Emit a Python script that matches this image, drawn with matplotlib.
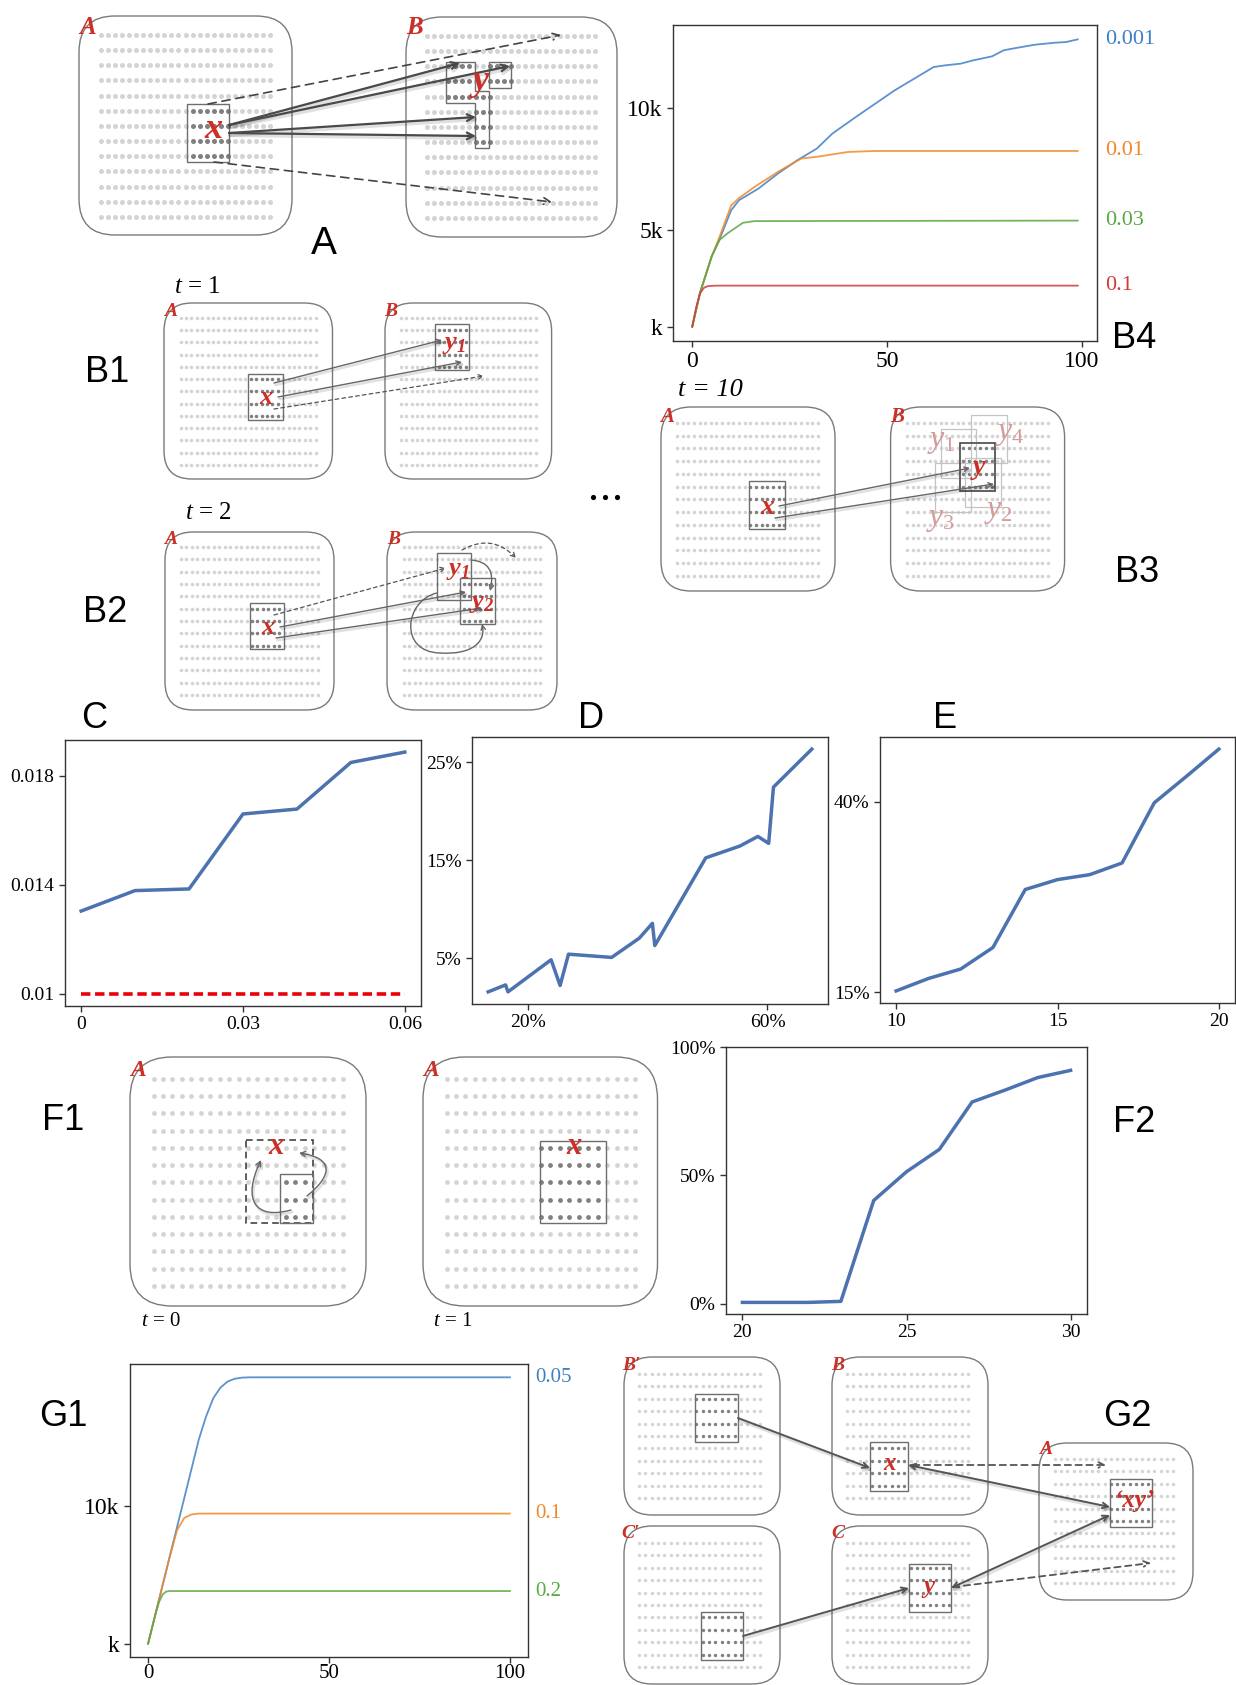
import numpy as np
import matplotlib

matplotlib.use('Agg')
import matplotlib.pyplot as plt
from matplotlib.patches import FancyBboxPatch, FancyArrowPatch, Rectangle, Polygon
from matplotlib.path import Path
import matplotlib.patheffects as pe

plt.rcParams['font.family'] = ['Liberation Serif', 'DejaVu Serif']
plt.rcParams['mathtext.fontset'] = 'custom'
plt.rcParams['mathtext.rm'] = 'Liberation Serif'
plt.rcParams['mathtext.it'] = 'Liberation Serif:italic'
plt.rcParams['mathtext.bf'] = 'Liberation Serif:italic:bold'

# ---- B4: growth of the region over epochs, one curve per rate
b4_rates = ['0.001', '0.01', '0.03', '0.1']
b4_colors = ['#3f7fc6', '#f0892a', '#5aaa44', '#cf3a3a']
b4_x_0001 = [0, 2, 5, 7, 10, 12, 17, 22, 27, 32, 36, 42, 47, 52, 57, 62, 65, 69, 72, 77, 80, 83, 88, 93, 96, 99]
b4_y_0001 = [1000, 2400, 3900, 4600, 5800, 6210, 6690, 7310, 7860, 8340, 8960, 9640, 10190, 10740, 11220,
             11700, 11770, 11840, 11970, 12140, 12390, 12480, 12620, 12700, 12730, 12840]
b4_x_001 = [0, 2, 5, 7, 10, 12, 16, 22, 28, 32, 36, 40, 47, 99]
b4_y_001 = [1000, 2400, 3900, 4700, 6000, 6300, 6760, 7380, 7930, 8000, 8100, 8200, 8240, 8240]
b4_x_003 = [0, 2, 5, 7, 9, 13, 16, 99]
b4_y_003 = [1000, 2400, 3900, 4570, 4840, 5280, 5350, 5370]
b4_x_01 = [0, 1, 2, 3, 4, 6, 99]
b4_y_01 = [1000, 1800, 2370, 2600, 2670, 2690, 2690]

# ---- C
c_x = [0, 0.01, 0.02, 0.03, 0.04, 0.05, 0.06]
c_y = [0.01304, 0.01379, 0.01385, 0.0166, 0.01678, 0.01849, 0.01887]
c_base = 0.01

# ---- D (percent)
d_x = [13.4, 16.3, 16.7, 23.9, 25.4, 26.8, 34.0, 38.6, 40.8, 41.2, 49.7, 55.4, 58.4, 60.2, 61.0, 67.4]
d_y = [1.55, 2.26, 1.55, 4.83, 2.2, 5.4, 5.07, 7.03, 8.55, 6.28, 15.24, 16.45, 17.43, 16.72, 22.47, 26.35]

# ---- E (percent)
e_x = [10, 11, 12, 13, 14, 15, 16, 17, 18, 19, 20]
e_y = [15.17, 16.8, 18.04, 20.87, 28.48, 29.78, 30.43, 31.96, 39.87, 43.35, 46.91]

# ---- F2 (percent)
f2_x = [20, 21, 22, 23, 24, 25, 26, 27, 28, 29, 30]
f2_y = [0.5, 0.5, 0.5, 0.9, 40.2, 51.4, 60.1, 78.6, 83.2, 88.1, 90.9]

# ---- G1
g1_rates = ['0.05', '0.1', '0.2']
g1_colors = ['#3f7fc6', '#f0892a', '#5aaa44']
g1_x_005 = [0, 2, 4, 6, 8, 10, 12, 14, 16, 18, 20, 22, 24, 26, 28, 100]
g1_y_005 = [1000, 2900, 4800, 6700, 8600, 10500, 12400, 14300, 15800, 17000, 17700, 18100, 18280, 18350, 18370, 18370]
g1_x_01 = [0, 2, 4, 6, 8, 10, 12, 14, 100]
g1_y_01 = [1000, 2900, 4800, 6700, 8400, 9200, 9430, 9485, 9485]
g1_x_02 = [0, 1, 2, 3, 4, 5, 6, 100]
g1_y_02 = [1000, 1950, 2900, 3700, 4200, 4400, 4433, 4433]

W, H = 1236, 1685
RED = '#cc2f26'
LINE = '#4c72b0'

fig = plt.figure(figsize=(W / 100, H / 100), dpi=100)
cv = fig.add_axes([0, 0, 1, 1])
cv.set_xlim(0, W)
cv.set_ylim(H, 0)
cv.axis('off')


def place(l, t, r, b):
    return fig.add_axes([l / W, 1 - b / H, (r - l) / W, (b - t) / H])


def panel(x0, y0, x1, y1, rad):
    cv.add_patch(FancyBboxPatch((x0, y0), x1 - x0, y1 - y0, boxstyle='round,pad=0,rounding_size=%s' % rad,
                                fc='white', ec='#7a7a7a', lw=1.0, zorder=1))


def grid(x0, x1, y0, y1, ncol, nrow, size, dark=()):
    gx, gy = np.meshgrid(np.linspace(x0, x1, ncol), np.linspace(y0, y1, nrow))
    gx, gy = gx.ravel(), gy.ravel()
    hot = np.zeros(gx.size, bool)
    for (a, b, c, d) in dark:
        hot |= (gx >= a) & (gx <= c) & (gy >= b) & (gy <= d)
    cv.scatter(gx[~hot], gy[~hot], s=size, c='#d4d4d4', lw=0, zorder=2)
    cv.scatter(gx[hot], gy[hot], s=size, c='#808080', lw=0, zorder=2)


def frame(x0, y0, x1, y1, ec='#6e6e6e', lw=1.0, ls='-'):
    cv.add_patch(Rectangle((x0, y0), x1 - x0, y1 - y0, fill=False, ec=ec, lw=lw, ls=ls, zorder=3))


def arrow(p, q, ls='-', lw=1.4, color='#555555', ms=12, style='->', shadow=False, path=None):
    if path is not None:
        a = FancyArrowPatch(path=path, arrowstyle=style, mutation_scale=ms, lw=lw, ls=ls, color=color, zorder=5)
    else:
        a = FancyArrowPatch(p, q, arrowstyle=style, mutation_scale=ms, lw=lw, ls=ls, color=color,
                            shrinkA=0, shrinkB=0, zorder=5)
    if shadow:  # soft drop shadow under the solid arrows
        a.set_path_effects([pe.SimpleLineShadow(offset=(1, -1.5), alpha=0.12, linewidth=lw * 1.8), pe.Normal()])
    cv.add_patch(a)


def red(x, y, s, fs, color=RED, bold=True):
    cv.text(x, y, s, color=color, fontsize=fs, style='italic', weight='bold' if bold else 'normal',
            ha='center', va='center', zorder=6)


def tag(x, y, s, fs=26):
    cv.text(x, y, s, family='Liberation Sans', fontsize=fs, ha='center', va='center', zorder=6)


# ================= A =================
panel(79, 16, 292, 235, 36)
panel(406, 17, 617, 237, 36)
grid(101, 270, 35, 217, 25, 13, 13, dark=[(186, 104, 229, 162)])
grid(427, 595, 36, 218, 25, 13, 13,
     dark=[(444, 60, 474, 100), (444, 90, 490, 100), (474, 90, 490, 148), (489, 60, 512, 88)])
frame(186.5, 104, 229, 162)
cv.add_patch(Polygon([(446, 62), (475, 62), (475, 91), (489, 91), (489, 148), (475, 148), (475, 103), (446, 103)],
                     closed=True, fill=False, ec='#6e6e6e', lw=1.0, zorder=3))
frame(489, 62, 511, 88)
for q in [(460, 63), (510, 66), (476, 117), (476, 136)]:
    arrow((229, 125 if q[1] < 100 else 133), q, lw=1.6, color='#4a4a4a', ms=12, shadow=True)
arrow((208, 104), (561, 35), ls=(0, (5, 3.5)), lw=1.2, color='#444444', ms=12)
arrow((214, 162), (552, 202), ls=(0, (5, 3.5)), lw=1.2, color='#444444', ms=12)
red(214, 130, 'x', 26)
red(481, 82, 'y', 26)
red(88, 27, 'A', 18)
red(415, 27, 'B', 18)
tag(324, 244, 'A', 28)

# ================= B1 =================
cv.text(197, 287, '$t$ = 1', fontsize=18, ha='center', va='center')
panel(164, 303, 332.5, 479, 28)
panel(385, 303, 551.6, 479, 28)
grid(180.6, 315.5, 318, 465, 26, 13, 6.5, dark=[(248, 374, 283, 420)])
grid(400.8, 535.7, 318, 465, 26, 13, 6.5, dark=[(434.5, 324, 469, 370)])
frame(248, 374, 283, 420)
frame(434.5, 324, 469, 370)
arrow((274, 383), (442, 340), lw=1.0, color='#666666', ms=8, shadow=True)
arrow((278, 397), (462, 362), lw=1.0, color='#666666', ms=8, shadow=True)
arrow((274, 409), (484, 376), ls=(0, (3, 2.5)), lw=0.9, color='#555555', ms=8)
red(266, 397, 'x', 19)
cv.text(454, 345, r'$\mathbf{y}_{\mathbf{1}}$', color=RED, fontsize=19, ha='center', va='center', zorder=6)
red(171, 312, 'A', 14)
red(391, 312, 'B', 14)
tag(107, 373, 'B1')

# ================= B2 =================
cv.text(208, 513, '$t$ = 2', fontsize=18, ha='center', va='center')
panel(165, 532, 334, 710, 28)
panel(387, 532, 557, 710, 28)
grid(181, 317.5, 547, 695, 26, 13, 6.5, dark=[(250, 603, 284, 649)])
grid(404, 540, 547, 695, 26, 13, 6.5, dark=[(460, 578, 495, 624)])
frame(250, 603, 284, 649)
frame(436.5, 553, 471, 600)
frame(460, 578, 495, 624)
arrow((274, 615), (446, 568), ls=(0, (3, 2.5)), lw=0.9, color='#555555', ms=8)
arrow((280, 627), (466, 592), lw=1.0, color='#666666', ms=8, shadow=True)
arrow((276, 638), (482, 608), lw=1.0, color='#666666', ms=8, shadow=True)
arrow(None, None, lw=1.0, color='#666666', ms=8, path=Path(
    [(437, 593), (405, 600), (398, 652), (440, 653), (472, 655), (486, 642), (482, 624)],
    [Path.MOVETO, Path.CURVE4, Path.CURVE4, Path.CURVE4, Path.CURVE4, Path.CURVE4, Path.CURVE4]))
arrow(None, None, lw=1.0, color='#666666', ms=8, path=Path(
    [(471, 560), (497, 562), (490, 591)], [Path.MOVETO, Path.CURVE3, Path.CURVE3]))
arrow(None, None, ls=(0, (3, 2.5)), lw=0.9, color='#555555', ms=8, path=Path(
    [(462, 550), (492, 533), (516, 558)], [Path.MOVETO, Path.CURVE3, Path.CURVE3]))
red(268, 627, 'x', 19)
cv.text(458, 571, r'$\mathbf{y}_{\mathbf{1}}$', color=RED, fontsize=19, ha='center', va='center', zorder=6)
cv.text(482, 604, r'$\mathbf{y}_{\mathbf{2}}$', color=RED, fontsize=19, ha='center', va='center', zorder=6)
red(171, 540, 'A', 14)
red(394, 540, 'B', 14)
tag(105, 612, 'B2')

cv.scatter([593, 605, 617], [497, 497, 497], s=14, c='black', lw=0)

# ================= B3 =================
cv.text(710, 390, 't = 10', fontsize=19, style='italic', ha='center', va='center')
panel(661, 407, 835, 591, 30)
panel(890.6, 407, 1064.6, 591, 30)
grid(677, 818, 423, 576, 26, 13, 6.5, dark=[(748.8, 481, 784.6, 529)])
grid(907, 1048, 423, 576, 26, 13, 6.5, dark=[(960, 443, 995, 491)])
frame(748.8, 481, 784.6, 529)
for fr in [(940.6, 429, 976.4, 478), (970.7, 415, 1006.5, 463), (935, 463, 970.7, 512), (965, 458, 1001, 507)]:
    frame(*fr, ec='#c4c4c4', lw=0.9)
frame(960, 443, 995, 491, ec='#555555', lw=1.3)
arrow((779, 506), (970, 468), lw=1.0, color='#666666', ms=8, shadow=True)
arrow((775, 518), (994, 484), lw=1.0, color='#666666', ms=8, shadow=True)
faint = '#d49b9b'
for (xx, yy, s) in [(941, 442, '1'), (1010, 434, '4'), (941, 520, '3'), (998, 512, '2')]:
    cv.text(xx, yy, r'$y_{\mathit{%s}}$' % s, color=faint, fontsize=23, ha='center', va='center', zorder=6)
red(767, 507, 'x', 20)
red(979, 467, 'y', 20)
red(667, 417, 'A', 15)
red(897, 417, 'B', 15)
tag(1137, 572, 'B3')

# ================= B4 =================
ax = place(673, 25, 1097, 341)
for xs, ys, col, lab in zip([b4_x_0001, b4_x_001, b4_x_003, b4_x_01], [b4_y_0001, b4_y_001, b4_y_003, b4_y_01],
                            b4_colors, b4_rates):
    ax.plot(xs, ys, color=col, lw=1.3, alpha=0.85)
    ax.text(1.019, ys[-1], lab, color=col, fontsize=16, va='center', ha='left', transform=ax.get_yaxis_transform())
ax.set_yticks([1000, 5000, 10000])
ax.set_yticklabels(['k', '5k', '10k'])
ax.set_xticks([0, 50, 100])
ax.tick_params(labelsize=17)
tag(1134, 339, 'B4')

# ================= C, D, E =================
ax = place(65, 740, 421, 1006)
ax.plot(c_x, c_y, color=LINE, lw=2.5)
ax.plot([c_x[0], c_x[-1]], [c_base, c_base], color='#e8000b', lw=2.6, ls=(0, (2.6, 1.3)))
ax.set_xticks([0, 0.03, 0.06])
ax.set_xticklabels(['0', '0.03', '0.06'])
ax.set_yticks([0.01, 0.014, 0.018])
ax.set_yticklabels(['0.01', '0.014', '0.018'])
ax.tick_params(labelsize=14)
tag(94, 718, 'C')

ax = place(472, 737, 828, 1004)
ax.plot(d_x, d_y, color=LINE, lw=2.5)
ax.set_xticks([20, 60])
ax.set_xticklabels(['20%', '60%'])
ax.set_yticks([5, 15, 25])
ax.set_yticklabels(['5%', '15%', '25%'])
ax.tick_params(labelsize=14)
tag(591, 718, 'D')

ax = place(880, 737, 1235, 1003)
ax.plot(e_x, e_y, color=LINE, lw=2.5)
ax.set_xticks([10, 15, 20])
ax.set_yticks([15, 40])
ax.set_yticklabels(['15%', '40%'])
ax.tick_params(labelsize=14)
tag(945, 718, 'E')

# ================= F1 =================
panel(130, 1057, 366, 1306, 42)
panel(423, 1057, 657.5, 1306, 42)
grid(153.5, 342.5, 1079, 1286, 21, 13, 12, dark=[(279.5, 1174, 312.6, 1223)])
grid(446.5, 635.4, 1079, 1286, 21, 13, 12, dark=[(540, 1141, 606, 1223)])
frame(245.7, 1140, 312.6, 1223, ec='#444444', lw=1.2, ls=(0, (4, 2.5)))
frame(279.5, 1174, 312.6, 1223)
frame(540, 1141, 606, 1223)
arrow(None, None, lw=1.0, color='#666666', ms=9, shadow=True, path=Path(
    [(291, 1210), (255, 1220), (242, 1200), (261, 1160)], [Path.MOVETO, Path.CURVE4, Path.CURVE4, Path.CURVE4]))
arrow(None, None, lw=1.0, color='#666666', ms=9, shadow=True, path=Path(
    [(307, 1196), (333, 1175), (334, 1158), (299, 1153)], [Path.MOVETO, Path.CURVE4, Path.CURVE4, Path.CURVE4]))
red(276, 1146, 'x', 22)
red(574, 1146, 'x', 22)
red(138, 1070, 'A', 17)
red(431, 1070, 'A', 17)
cv.text(161, 1321, '$t$ = 0', fontsize=15, ha='center', va='center')
cv.text(453, 1321, '$t$ = 1', fontsize=15, ha='center', va='center')
tag(63, 1121, 'F1')

# ================= F2 =================
ax = place(726, 1047, 1087, 1314)
ax.plot(f2_x, f2_y, color=LINE, lw=2.5)
ax.set_ylim(top=100)
ax.set_xticks([20, 25, 30])
ax.set_yticks([0, 50, 100])
ax.set_yticklabels(['0%', '50%', '100%'])
ax.tick_params(labelsize=14)
tag(1134, 1122, 'F2')

# ================= G1 =================
ax = place(130, 1364, 528, 1657)
for xs, ys, col, lab in zip([g1_x_005, g1_x_01, g1_x_02], [g1_y_005, g1_y_01, g1_y_02], g1_colors, g1_rates):
    ax.plot(xs, ys, color=col, lw=1.3, alpha=0.85)
    ax.text(1.018, ys[-1], lab, color=col, fontsize=15, va='center', ha='left', transform=ax.get_yaxis_transform())
ax.set_yticks([1000, 10000])
ax.set_yticklabels(['k', '10k'])
ax.set_xticks([0, 50, 100])
ax.tick_params(labelsize=17)
ax.tick_params(axis='x', labelsize=15, pad=1)
tag(63, 1416, 'G1')

# ================= G2 =================
gx0, gx1 = 639, 760
for (bx, by, dk) in [(0, 0, (695, 1394, 738, 1442)), (208, 0, (870, 1442, 908, 1491)),
                     (0, 169, (701, 1612, 743, 1660)), (208, 169, (909, 1564, 951, 1612))]:
    panel(624 + bx, 1357 + by, 780 + bx, 1515 + by, 28)
    grid(gx0 + bx, gx1 + bx, 1374 + by, 1498 + by, 20, 11, 6, dark=[dk])
    frame(*dk)
panel(1039, 1443, 1193, 1600, 28)
grid(1055, 1173, 1459, 1583, 20, 11, 6, dark=[(1110, 1479, 1152, 1527)])
frame(1110, 1479, 1152, 1527)
arrow((738, 1418), (870, 1468), lw=1.4, ms=10, shadow=True)
arrow((743, 1636), (909, 1588), lw=1.4, ms=10, shadow=True)
arrow((908, 1465), (1110, 1507), lw=1.4, ms=10, style='<->', shadow=True)
arrow((951, 1588), (1110, 1515), lw=1.4, ms=10, style='<->', shadow=True)
arrow((913, 1465), (1106, 1465), ls=(0, (3.5, 2.5)), lw=1.3, ms=10)
arrow((953, 1587), (1151, 1563), ls=(0, (3.5, 2.5)), lw=1.3, ms=10)
red(890, 1463, 'x', 18)
red(929, 1587, 'y', 18)
red(1134, 1500, '\u2018xy\u2019', 18)
red(631, 1365, 'B\u2032', 14)
red(838, 1365, 'B', 14)
red(631, 1533, 'C\u2032', 14)
red(838, 1533, 'C', 14)
red(1046, 1450, 'A', 14)
tag(1127, 1416, 'G2')

for a in fig.axes[1:]:
    for s in a.spines.values():
        s.set_color('#333333')
        s.set_linewidth(1.0)
    a.tick_params(length=4, width=1, color='#333333')

fig.savefig('out.png', dpi=100)
